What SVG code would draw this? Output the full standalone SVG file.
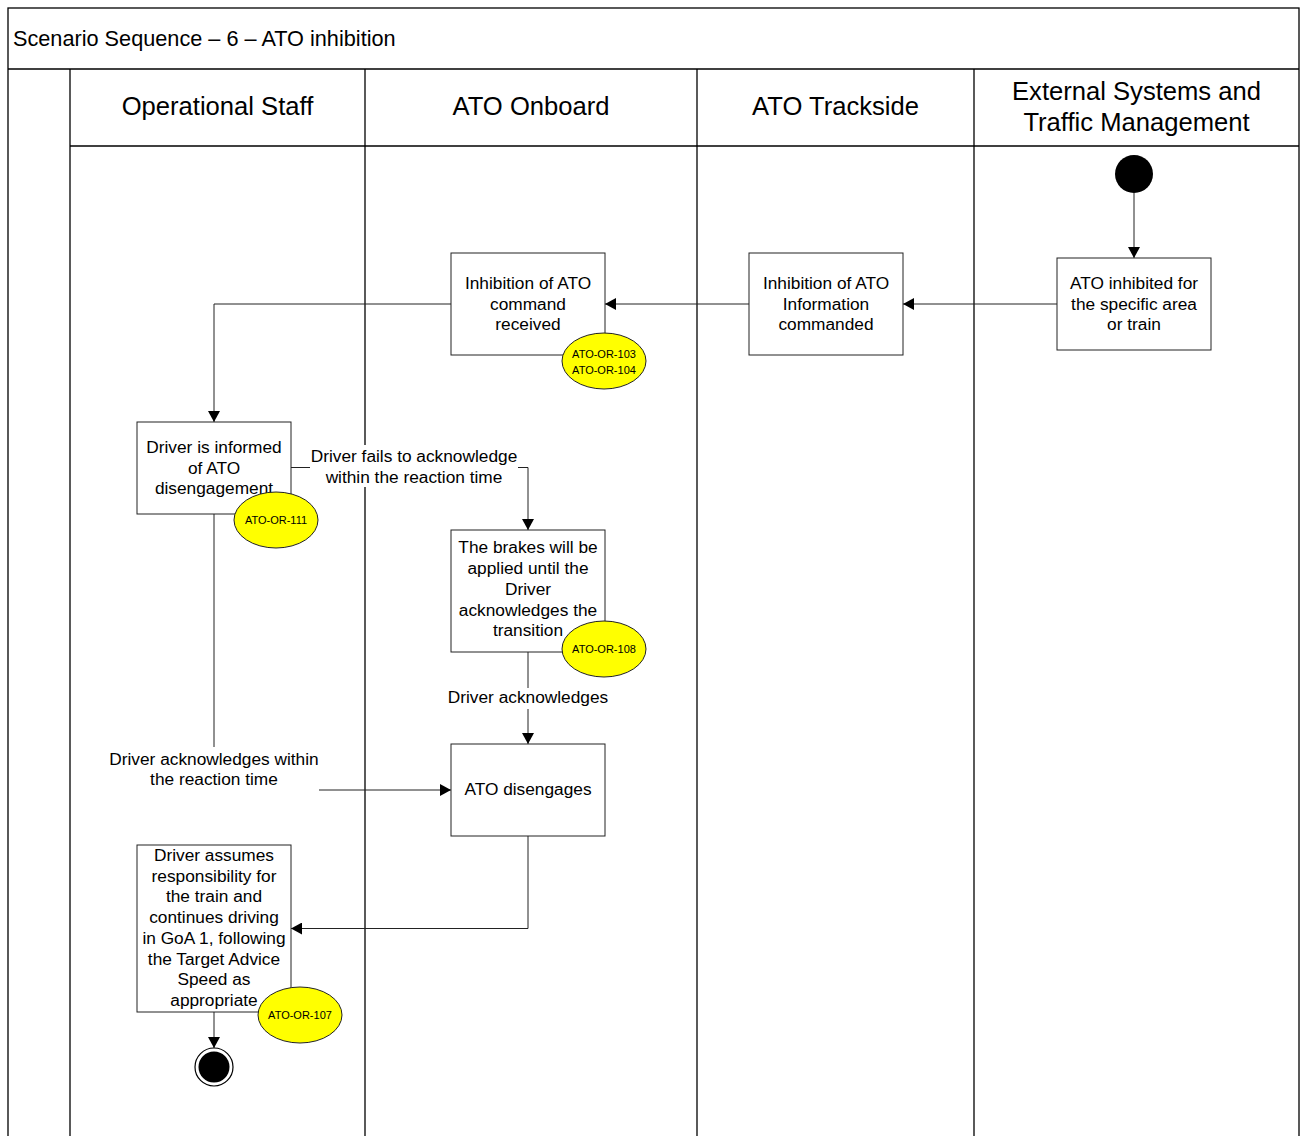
<svg xmlns="http://www.w3.org/2000/svg" width="1301" height="1136" viewBox="0 0 1301 1136">
  <style>
    .frame { fill: none; stroke: #000; stroke-width: 1.3; }
    .lane { fill: none; stroke: #000; stroke-width: 1.3; }
    .box { fill: #fff; stroke: #222; stroke-width: 1; }
    .badge { fill: #ffff00; stroke: #222; stroke-width: 1; }
    .conn { fill: none; stroke: #222; stroke-width: 1; }
    .lblbg { fill: #fff; stroke: none; }
    text { font-family: "Liberation Sans", Arial, sans-serif; fill: #000; }
    .title { font-size: 21.7px; }
    .hdr { font-size: 25.6px; text-anchor: middle; }
    .txt { font-size: 17.3px; text-anchor: middle; }
    .req { font-size: 11px; text-anchor: middle; }
  </style>
  <defs>
    <marker id="arrow" viewBox="0 0 11 12" refX="11" refY="6" markerWidth="11" markerHeight="12" markerUnits="userSpaceOnUse" orient="auto">
      <path d="M0,0 L11,6 L0,12 z" fill="#000"/>
    </marker>
  </defs>

  <!-- swimlane frame -->
  <g id="swimlanes">
    <rect class="frame" x="8" y="8" width="1291" height="1140"/>
    <line class="lane" x1="8" y1="69" x2="1299" y2="69"/>
    <line class="lane" x1="70" y1="146" x2="1299" y2="146"/>
    <line class="lane" x1="70" y1="69" x2="70" y2="1136"/>
    <line class="lane" x1="365" y1="69" x2="365" y2="1136"/>
    <line class="lane" x1="697" y1="69" x2="697" y2="1136"/>
    <line class="lane" x1="974" y1="69" x2="974" y2="1136"/>
    <text class="title" x="13" y="45.5">Scenario Sequence – 6 – ATO inhibition</text>
    <text class="hdr" x="217.5" y="115">Operational Staff</text>
    <text class="hdr" x="531" y="115">ATO Onboard</text>
    <text class="hdr" x="835.5" y="115">ATO Trackside</text>
    <text class="hdr" x="1136.5" y="100">External Systems and</text>
    <text class="hdr" x="1136.5" y="131">Traffic Management</text>
  </g>

  <!-- connectors -->
  <g id="connectors">
    <path class="conn" d="M1134,193 L1134,258" marker-end="url(#arrow)"/>
    <path class="conn" d="M1057,304 L903,304" marker-end="url(#arrow)"/>
    <path class="conn" d="M749,304 L605,304" marker-end="url(#arrow)"/>
    <path class="conn" d="M451,304 L214,304 L214,422" marker-end="url(#arrow)"/>

    <path class="conn" d="M291,467.5 L528,467.5 L528,530" marker-end="url(#arrow)"/>
    <rect class="lblbg" x="310" y="445" width="208" height="42"/>
    <text class="txt" x="414" y="462">Driver fails to acknowledge</text>
    <text class="txt" x="414" y="482.5">within the reaction time</text>

    <path class="conn" d="M528,652 L528,744" marker-end="url(#arrow)"/>
    <rect class="lblbg" x="445" y="688" width="166" height="21"/>
    <text class="txt" x="528" y="703">Driver acknowledges</text>

    <path class="conn" d="M214,514 L214,790 L451,790" marker-end="url(#arrow)"/>
    <rect class="lblbg" x="106" y="747" width="213" height="45"/>
    <text class="txt" x="214" y="765">Driver acknowledges within</text>
    <text class="txt" x="214" y="785">the reaction time</text>

    <path class="conn" d="M528,836 L528,928.5 L291,928.5" marker-end="url(#arrow)"/>
    <path class="conn" d="M214,1012 L214,1048" marker-end="url(#arrow)"/>
  </g>

  <!-- nodes -->
  <g id="start">
    <circle cx="1134" cy="174" r="19" fill="#000"/>
  </g>

  <g id="ato-inhibited">
    <rect class="box" x="1057" y="258" width="154" height="92"/>
    <text class="txt" x="1134" y="289">ATO inhibited for</text>
    <text class="txt" x="1134" y="309.5">the specific area</text>
    <text class="txt" x="1134" y="330">or train</text>
  </g>

  <g id="inhibition-commanded">
    <rect class="box" x="749" y="253" width="154" height="102"/>
    <text class="txt" x="826" y="289">Inhibition of ATO</text>
    <text class="txt" x="826" y="309.5">Information</text>
    <text class="txt" x="826" y="330">commanded</text>
  </g>

  <g id="inhibition-received">
    <rect class="box" x="451" y="253" width="154" height="102"/>
    <text class="txt" x="528" y="289">Inhibition of ATO</text>
    <text class="txt" x="528" y="309.5">command</text>
    <text class="txt" x="528" y="330">received</text>
    <ellipse class="badge" cx="604" cy="361" rx="42" ry="28"/>
    <text class="req" x="604" y="358">ATO-OR-103</text>
    <text class="req" x="604" y="374">ATO-OR-104</text>
  </g>

  <g id="driver-informed">
    <rect class="box" x="137" y="422" width="154" height="92"/>
    <text class="txt" x="214" y="453">Driver is informed</text>
    <text class="txt" x="214" y="473.5">of ATO</text>
    <text class="txt" x="214" y="494">disengagement</text>
    <ellipse class="badge" cx="276" cy="520" rx="42" ry="28"/>
    <text class="req" x="276" y="524">ATO-OR-111</text>
  </g>

  <g id="brakes-applied">
    <rect class="box" x="451" y="530" width="154" height="122"/>
    <text class="txt" x="528" y="553">The brakes will be</text>
    <text class="txt" x="528" y="574">applied until the</text>
    <text class="txt" x="528" y="594.5">Driver</text>
    <text class="txt" x="528" y="615.5">acknowledges the</text>
    <text class="txt" x="528" y="636">transition</text>
    <ellipse class="badge" cx="604" cy="649" rx="42" ry="28"/>
    <text class="req" x="604" y="653">ATO-OR-108</text>
  </g>

  <g id="ato-disengages">
    <rect class="box" x="451" y="744" width="154" height="92"/>
    <text class="txt" x="528" y="795">ATO disengages</text>
  </g>

  <g id="driver-assumes">
    <rect class="box" x="137" y="845" width="154" height="167"/>
    <text class="txt" x="214" y="861">Driver assumes</text>
    <text class="txt" x="214" y="881.7">responsibility for</text>
    <text class="txt" x="214" y="902.4">the train and</text>
    <text class="txt" x="214" y="923.1">continues driving</text>
    <text class="txt" x="214" y="943.8">in GoA 1, following</text>
    <text class="txt" x="214" y="964.5">the Target Advice</text>
    <text class="txt" x="214" y="985.2">Speed as</text>
    <text class="txt" x="214" y="1005.9">appropriate</text>
    <ellipse class="badge" cx="300" cy="1015" rx="42" ry="28"/>
    <text class="req" x="300" y="1019">ATO-OR-107</text>
  </g>

  <g id="end">
    <circle cx="214" cy="1067" r="19" fill="#fff" stroke="#000" stroke-width="1.2"/>
    <circle cx="214" cy="1067" r="15.5" fill="#000"/>
  </g>
</svg>
